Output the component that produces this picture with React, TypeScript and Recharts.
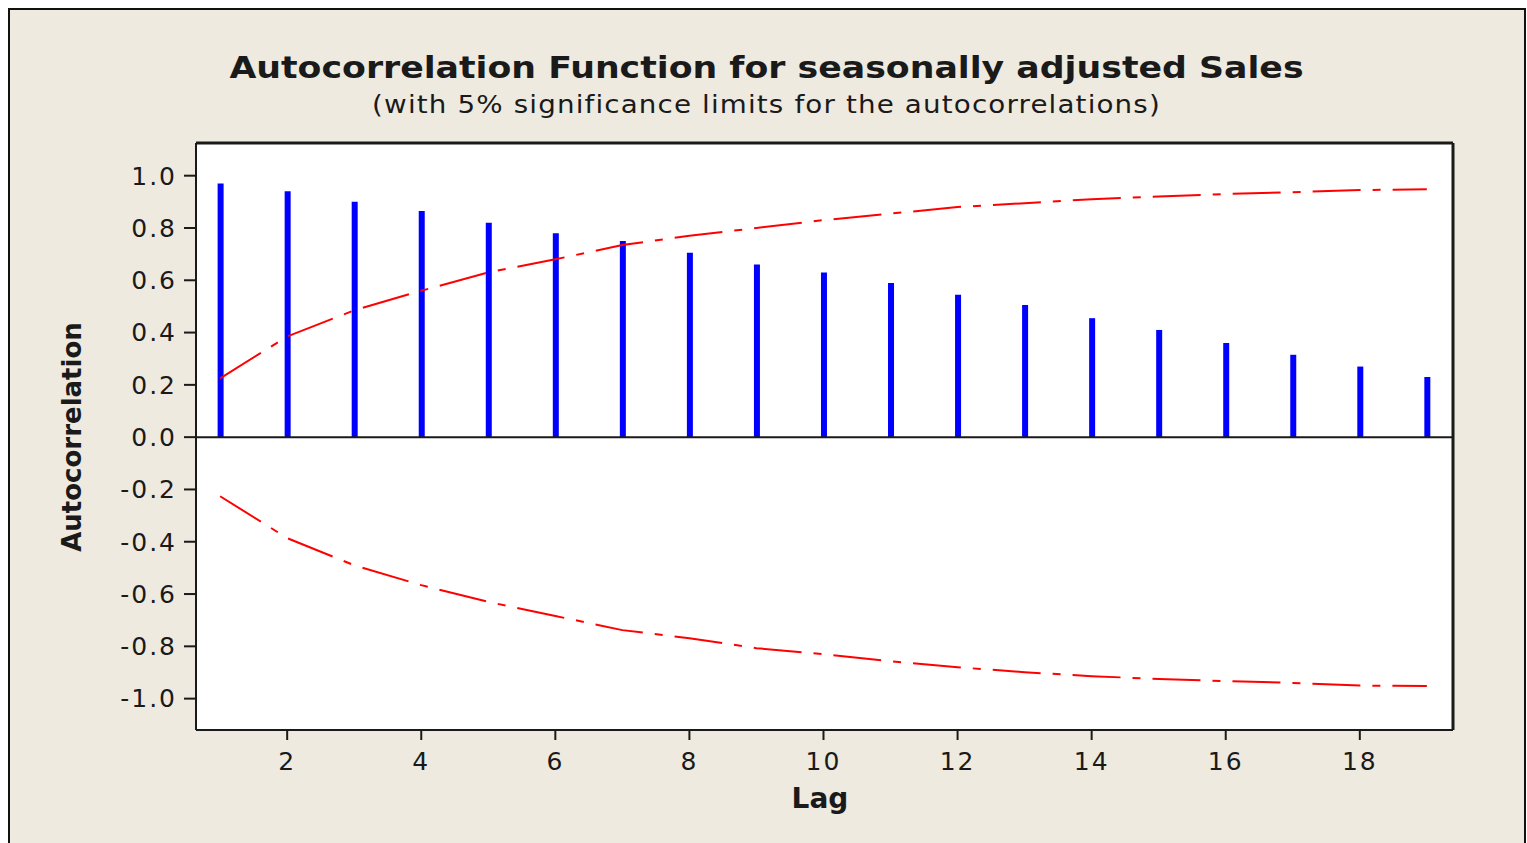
import { ComposedChart, Bar, Line, XAxis, YAxis, CartesianGrid, ReferenceLine } from 'recharts'

// values
const lags = [1, 2, 3, 4, 5, 6, 7, 8, 9, 10, 11, 12, 13, 14, 15, 16, 17, 18, 19]
const acf = [0.97, 0.94, 0.9, 0.865, 0.82, 0.78, 0.75, 0.705, 0.66, 0.63, 0.59, 0.545, 0.505, 0.455, 0.41, 0.36, 0.315, 0.27, 0.23]
const upperLimit = [0.225, 0.385, 0.485, 0.56, 0.63, 0.68, 0.735, 0.77, 0.8, 0.83, 0.855, 0.88, 0.895, 0.91, 0.92, 0.93, 0.937, 0.945, 0.948]
const lowerLimit = [-0.226, -0.386, -0.49, -0.566, -0.63, -0.684, -0.738, -0.769, -0.807, -0.83, -0.857, -0.88, -0.899, -0.914, -0.925, -0.933, -0.94, -0.95, -0.952]
const xTicks = [2, 4, 6, 8, 10, 12, 14, 16, 18]
const yTicks = [-1.0, -0.8, -0.6, -0.4, -0.2, 0.0, 0.2, 0.4, 0.6, 0.8, 1.0]

const X_DOMAIN: [number, number] = [0.64, 19.39]
const Y_DOMAIN: [number, number] = [-1.12, 1.125]

const data = lags.map((lag, i) => ({ lag, acf: acf[i], upper: upperLimit[i], lower: lowerLimit[i] }))

const FONT = '"DejaVu Sans", Verdana, sans-serif'
const BG = '#EEEAE0'
const INK = '#1a1a1a'
const tickStyle = { fill: INK, fontSize: 25, fontFamily: FONT, letterSpacing: 2 }

export default function App() {
  return (
    <div style={{ position: 'absolute', left: 0, top: 0, width: 1527, height: 843, background: '#fff', overflow: 'hidden' }}>
      <div
        style={{
          position: 'absolute',
          left: 8,
          top: 8,
          width: 1514,
          height: 850,
          background: BG,
          border: '2px solid #111',
        }}
      />
      <div
        style={{
          position: 'absolute',
          left: 8,
          width: 1517,
          top: 49,
          textAlign: 'center',
          fontFamily: FONT,
          fontWeight: 'bold',
          fontSize: 31,
          color: INK,
          transform: 'scaleX(1.12)',
        }}
      >
        Autocorrelation Function for seasonally adjusted Sales
      </div>
      <div
        style={{
          position: 'absolute',
          left: 8,
          width: 1517,
          top: 91,
          textAlign: 'center',
          fontFamily: FONT,
          fontSize: 24,
          letterSpacing: 1,
          color: INK,
          transform: 'scaleX(1.155)',
        }}
      >
        (with 5% significance limits for the autocorrelations)
      </div>
      <div
        style={{
          position: 'absolute',
          left: 72,
          top: 437,
          transform: 'translate(-50%, -50%) rotate(-90deg)',
          fontFamily: FONT,
          fontWeight: 'bold',
          fontSize: 26,
          color: INK,
          whiteSpace: 'nowrap',
        }}
      >
        Autocorrelation
      </div>
      <div
        style={{
          position: 'absolute',
          left: 820,
          top: 798,
          transform: 'translate(-50%, -50%)',
          fontFamily: FONT,
          fontWeight: 'bold',
          fontSize: 28,
          color: INK,
        }}
      >
        Lag
      </div>
      <div style={{ position: 'absolute', left: 0, top: 0 }}>
        <ComposedChart width={1527} height={843} data={data} margin={{ top: 143, right: 74, bottom: 53, left: 96 }}>
          <CartesianGrid horizontal={false} vertical={false} fill="#fff" />
          <XAxis
            dataKey="lag"
            type="number"
            domain={X_DOMAIN}
            ticks={xTicks}
            allowDataOverflow
            height={60}
            tickSize={10}
            tickMargin={12}
            tick={tickStyle}
            axisLine={{ stroke: INK, strokeWidth: 2 }}
            tickLine={{ stroke: INK, strokeWidth: 2 }}
          />
          <YAxis
            type="number"
            domain={Y_DOMAIN}
            ticks={yTicks}
            allowDataOverflow
            width={100}
            tickSize={12}
            tickMargin={7}
            tick={tickStyle}
            tickFormatter={(v: number) => v.toFixed(1)}
            axisLine={{ stroke: INK, strokeWidth: 2 }}
            tickLine={{ stroke: INK, strokeWidth: 2 }}
          />
          {/* top and right edges of the plot frame */}
          <ReferenceLine y={Y_DOMAIN[1]} stroke={INK} strokeWidth={3} />
          <ReferenceLine x={X_DOMAIN[1]} stroke={INK} strokeWidth={3} />
          <ReferenceLine y={0} stroke={INK} strokeWidth={2} />
          <Bar dataKey="acf" fill="#0000FF" barSize={6} isAnimationActive={false} />
          <Line dataKey="upper" type="linear" stroke="#FF0000" strokeWidth={2} dot={false} strokeDasharray="48 12 8 12" isAnimationActive={false} />
          <Line dataKey="lower" type="linear" stroke="#FF0000" strokeWidth={2} dot={false} strokeDasharray="48 12 8 12" isAnimationActive={false} />
        </ComposedChart>
      </div>
    </div>
  )
}
